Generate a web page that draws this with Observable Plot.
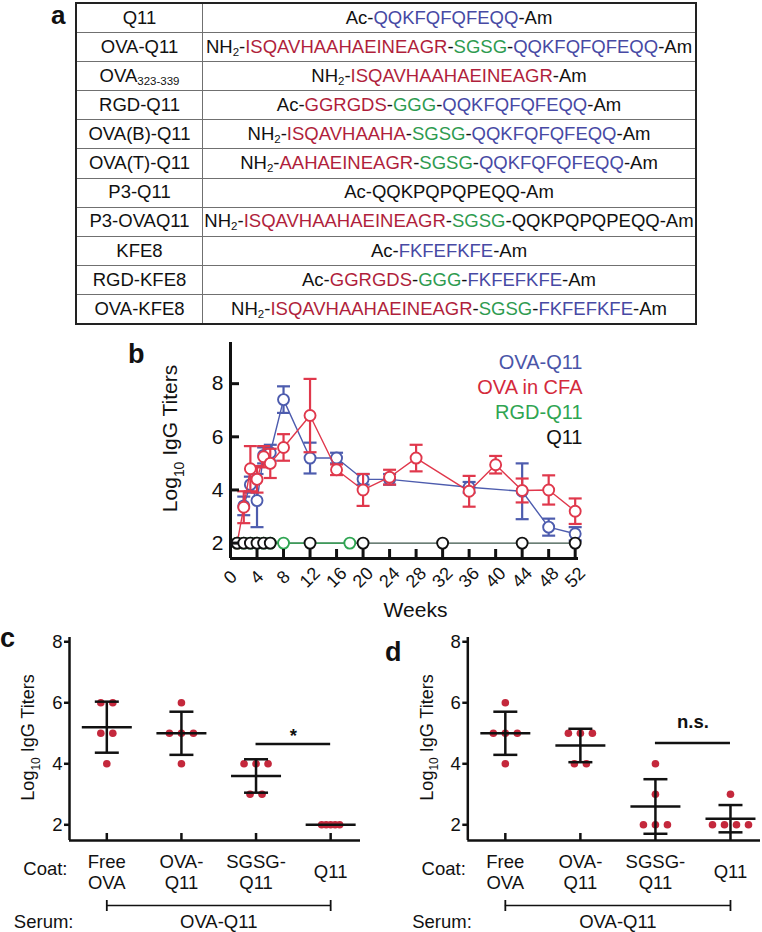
<!DOCTYPE html>
<html><head><meta charset="utf-8">
<script src="https://cdn.jsdelivr.net/npm/d3@7"></script>
<script src="https://cdn.jsdelivr.net/npm/@observablehq/plot@0.6"></script>
<style>
body{margin:0;background:#fff;font-family:"Liberation Sans",Arial,Helvetica,sans-serif;}
#fig{position:relative;width:762px;height:932px;overflow:hidden;background:#fff;}
#fig svg{position:absolute;}
.pl{position:absolute;font-weight:bold;font-size:27px;line-height:0.8;color:#111;}
#pep{position:absolute;left:75px;top:2px;width:622px;border-collapse:collapse;table-layout:fixed;font-size:18.5px;color:#111;border:2.5px solid #222;}
#pep td{height:28.1px;padding:0;text-align:center;white-space:nowrap;border-top:1.5px solid #707070;line-height:1;}
#pep td.n{width:125px;border-right:1.5px solid #707070;}
#pep sub{font-size:0.62em;vertical-align:-0.3em;line-height:0;}
</style></head>
<body><div id="fig"></div>
<script>
// ---------- Panel a: peptide table ----------
const peptideNames = ["Q11","OVA-Q11","OVA","RGD-Q11","OVA(B)-Q11","OVA(T)-Q11","P3-Q11","P3-OVAQ11","KFE8","RGD-KFE8","OVA-KFE8"];
const peptideNameSubs = ["","","323-339","","","","","","","",""];
const seqStart = ["Ac","NH2","NH2","Ac","NH2","NH2","Ac","NH2","Ac","Ac","NH2"];
const seqSegments = [
  [["QQKFQFQFEQQ","b"]],
  [["ISQAVHAAHAEINEAGR","r"],["SGSG","g"],["QQKFQFQFEQQ","b"]],
  [["ISQAVHAAHAEINEAGR","r"]],
  [["GGRGDS","r"],["GGG","g"],["QQKFQFQFEQQ","b"]],
  [["ISQAVHAAHA","r"],["SGSG","g"],["QQKFQFQFEQQ","b"]],
  [["AAHAEINEAGR","r"],["SGSG","g"],["QQKFQFQFEQQ","b"]],
  [["QQKPQPQPEQQ","k"]],
  [["ISQAVHAAHAEINEAGR","r"],["SGSG","g"],["QQKPQPQPEQQ","k"]],
  [["FKFEFKFE","b"]],
  [["GGRGDS","r"],["GGG","g"],["FKFEFKFE","b"]],
  [["ISQAVHAAHAEINEAGR","r"],["SGSG","g"],["FKFEFKFE","b"]]
];
const segColors = {r:"#b01f3c", g:"#2e9b50", b:"#4749a4", k:"#111"};

// ---------- Panel b: time course ----------
const weekTicks = [0,4,8,12,16,20,24,28,32,36,40,44,48,52];
const weeksOVAQ11 = [2,3,4,5,6,8,12,16,20,24,36,44,48,52];
const meanOVAQ11  = [3.4,4.2,3.6,5.3,5.4,7.4,5.2,5.2,4.4,4.4,4.1,3.95,2.6,2.35];
const sdOVAQ11    = [0.35,0.3,1.0,0.3,0.3,0.5,0.58,0.2,0.2,0.2,0.2,1.05,0.32,0.25];
const weeksCFA = [1,2,3,4,5,6,8,12,16,20,24,28,36,40,44,48,52];
const meanCFA  = [2,3.35,4.8,4.4,5.25,5.0,5.6,6.8,4.76,4.0,4.48,5.2,3.95,4.95,3.98,4.0,3.2];
const sdCFA    = [0,0.6,0.85,0.5,0.4,0.55,0.5,1.38,0.2,0.6,0.28,0.5,0.58,0.33,0.45,0.55,0.48];
const weeksRGD = [1,2,3,4,5,6,8,18];
const meanRGD  = [2,2,2,2,2,2,2,2];
const weeksQ11 = [1,2,3,4,5,6,12,20,32,44,52];
const meanQ11  = [2,2,2,2,2,2,2,2,2,2,2];
const legendLabels = ["OVA-Q11","OVA in CFA","RGD-Q11","Q11"];
const legendColors = ["#4a55a8","#d42a3c","#2fa552","#111"];

// ---------- Panels c and d: scatter ----------
const coatLabels = ["Free\nOVA","OVA-\nQ11","SGSG-\nQ11","Q11"];
const titersC = [[6,6,5,5,4],[6,5,5,5,4],[4,4,4,3,3],[2,2,2,2,2]];
const titersD = [[6,5,5,5,4],[5,5,5,4,4],[4,3,2,2,2],[3,2,2,2,2]];
const sigC = [{from:2, to:3, y:4.65, label:"*"}];
const sigD = [{from:2, to:3, y:4.68, label:"n.s."}];
const serumBracket = [{from:0, to:3, label:"OVA-Q11"}];
const yTicks = [2,4,6,8];

const FONT = '"Liberation Sans", Arial, Helvetica, sans-serif';
const fig = document.getElementById("fig");

// build table
(function(){
  const tbl = document.createElement("table"); tbl.id = "pep";
  peptideNames.forEach((nm,i)=>{
    const tr = document.createElement("tr");
    const td1 = document.createElement("td"); td1.className = "n";
    td1.innerHTML = nm + (peptideNameSubs[i] ? "<sub>"+peptideNameSubs[i]+"</sub>" : "");
    const td2 = document.createElement("td");
    let h = seqStart[i] === "NH2" ? "NH<sub>2</sub>" : "Ac";
    for (const [s,c] of seqSegments[i]) h += '-<span style="color:'+segColors[c]+'">'+s+'</span>';
    h += "-Am";
    td2.innerHTML = h;
    tr.append(td1, td2); tbl.append(tr);
  });
  fig.append(tbl);
})();

// symbols
const hline = {draw(ctx, size){const r = Math.sqrt(size/Math.PI); ctx.moveTo(-r,0); ctx.lineTo(r,0);}};
const vline = {draw(ctx, size){const r = Math.sqrt(size/Math.PI); ctx.moveTo(0,-r); ctx.lineTo(0,r);}};
const fmt = d => String(d);

function subLog(svg, fs){
  const ns = "http://www.w3.org/2000/svg";
  for (const t of svg.querySelectorAll("text")) {
    if (t.textContent === "Log10 IgG Titers") {
      t.textContent = "";
      const a = document.createElementNS(ns,"tspan"); a.textContent = "Log";
      const b = document.createElementNS(ns,"tspan"); b.textContent = "10";
      b.setAttribute("font-size", fs*0.66); b.setAttribute("dy", fs*0.3);
      const c = document.createElementNS(ns,"tspan"); c.textContent = " IgG Titers";
      c.setAttribute("dy", -fs*0.3);
      t.append(a,b,c);
    }
  }
}

function place(svg, left, top){ svg.style.left = left+"px"; svg.style.top = top+"px"; fig.append(svg); }

const M = {textAnchor:"middle", lineAnchor:"middle"};

// ---------- panel b ----------
(function(){
  const rows = (w, m, s) => w.map((x,i)=>({w:x, m:m[i], sd:s?s[i]:0, lo:m[i]-(s?s[i]:0), hi:m[i]+(s?s[i]:0)}));
  const ova = rows(weeksOVAQ11, meanOVAQ11, sdOVAQ11);
  const cfa = rows(weeksCFA, meanCFA, sdCFA);
  const rgd = rows(weeksRGD, meanRGD);
  const q11 = rows(weeksQ11, meanQ11);
  const xd = [0, 52.5], yd = [1.42, 9.55];
  function series(data, color, lw){
    const e = data.filter(d=>d.sd>0);
    const caps = e.flatMap(d=>[{w:d.w,y:d.lo},{w:d.w,y:d.hi}]);
    return [
      Plot.line(data, {x:"w", y:"m", stroke:color, strokeWidth:lw}),
      Plot.ruleX(e, {x:"w", y1:"lo", y2:"hi", stroke:color, strokeWidth:2.2}),
      Plot.dot(caps, {x:"w", y:"y", r:6.5, symbol:hline, stroke:color, strokeWidth:2.2, fill:"none"}),
      Plot.dot(data, {x:"w", y:"m", r:5.5, stroke:color, strokeWidth:1.9, fill:"white"})
    ];
  }
  const svg = Plot.plot({
    width:470, height:290, marginLeft:100, marginRight:22, marginTop:12, marginBottom:62,
    x:{domain:xd}, y:{domain:yd},
    style:{fontFamily:FONT, fontSize:"20px", color:"#111", background:"transparent", overflow:"visible"},
    marks:[
      ...series(ova, "#4d5cae", 1.4),
      ...series(cfa, "#e0384c", 1.4),
      Plot.line(q11, {x:"w", y:"m", stroke:"#3a5548", strokeWidth:1.4}),
      Plot.line(rgd, {x:"w", y:"m", stroke:"#2fa552", strokeWidth:1.4}),
      Plot.dot(rgd, {x:"w", y:"m", r:5.5, stroke:"#2fa552", strokeWidth:1.9, fill:"white"}),
      Plot.dot(q11, {x:"w", y:"m", r:5.5, stroke:"#111", strokeWidth:1.9, fill:"white"}),
      Plot.ruleX([xd[0]], {stroke:"#111", strokeWidth:3}),
      Plot.ruleY([yd[0]], {stroke:"#111", strokeWidth:3}),
      Plot.axisY({ticks:yTicks, tickSize:-9, strokeWidth:3, fill:"none", label:null}),
      Plot.axisY({ticks:yTicks, tickSize:0, tickPadding:7, fontSize:21, tickFormat:fmt, label:null}),
      Plot.axisX({ticks:weekTicks, tickSize:-9, strokeWidth:3, fill:"none", label:null}),
      Plot.text(weekTicks, {x:d=>d, text:fmt, frameAnchor:"bottom", dy:19, rotate:-45, fontSize:18, ...M}),
      Plot.text(["Weeks"], {frameAnchor:"bottom", dx:11, dy:52, fontSize:21, ...M}),
      Plot.text(["Log10 IgG Titers"], {frameAnchor:"left", rotate:-90, dx:-60, dy:-12, fontSize:21, ...M}),
      ...legendLabels.map((l,i)=>Plot.text([l], {frameAnchor:"top-right", textAnchor:"end", lineAnchor:"middle", dx:4, dy:19.7+25*i, fill:legendColors[i], fontSize:20}))
    ]
  });
  subLog(svg, 21);
  place(svg, 130, 330);
})();

// ---------- panels c, d ----------
function scatterPanel(titers, sig, sigDy, left, width, marginLeft, marginRight){
  const xd = [-0.5, 3.4], yd = [1.485, 8.14];
  const ppu = (width - marginLeft - marginRight) / (xd[1]-xd[0]);
  const pts = [];
  titers.forEach((vals, g)=>{
    const counts = d3.rollup(vals, v=>v.length, v=>v);
    const seen = new Map();
    vals.forEach(v=>{
      const n = counts.get(v), k = seen.get(v) || 0; seen.set(v, k+1);
      const s = n > 4 ? 4.5 : 12;
      pts.push({g, v, x: g + ((k-(n-1)/2)*s)/ppu});
    });
  });
  const stats = titers.map((vals,g)=>{const m = d3.mean(vals), s = d3.deviation(vals)||0; return {g, m, s, lo:m-s, hi:m+s};});
  const errs = stats.filter(d=>d.s>0);
  const caps = errs.flatMap(d=>[{g:d.g,y:d.lo},{g:d.g,y:d.hi}]);
  const svg = Plot.plot({
    width, height:304, marginLeft, marginRight, marginTop:9, marginBottom:92,
    x:{domain:xd}, y:{domain:yd},
    style:{fontFamily:FONT, fontSize:"18.5px", color:"#111", background:"transparent", overflow:"visible"},
    marks:[
      Plot.dot(pts, {x:"x", y:"v", r:3.8, fill:"#c4283c", stroke:"none"}),
      Plot.ruleX(errs, {x:"g", y1:"lo", y2:"hi", stroke:"#111", strokeWidth:2.5}),
      Plot.dot(caps, {x:"g", y:"y", r:12, symbol:hline, stroke:"#111", strokeWidth:2.5, fill:"none"}),
      Plot.dot(stats, {x:"g", y:"m", r:25, symbol:hline, stroke:"#111", strokeWidth:2.5, fill:"none"}),
      Plot.ruleX([xd[0]], {stroke:"#111", strokeWidth:2.5}),
      Plot.ruleY([yd[0]], {stroke:"#111", strokeWidth:2.5}),
      Plot.axisY({ticks:yTicks, tickSize:5, strokeWidth:2.5, fill:"none", label:null}),
      Plot.axisY({ticks:yTicks, tickSize:0, tickPadding:7, fontSize:18.5, tickFormat:fmt, label:null}),
      Plot.axisX({ticks:[0,1,2,3], tickSize:-7, strokeWidth:2.5, fill:"none", label:null}),
      Plot.text(coatLabels, {x:(d,i)=>i, frameAnchor:"bottom", dy:31, lineHeight:1.17, fontSize:18.5, ...M}),
      Plot.text(["Coat:"], {frameAnchor:"bottom-left", textAnchor:"end", lineAnchor:"middle", dx:-2, dy:29, fontSize:18.5}),
      Plot.ruleY(serumBracket, {y:yd[0], x1:"from", x2:"to", dy:65, stroke:"#111", strokeWidth:1.6}),
      Plot.dot(serumBracket.flatMap(d=>[d.from,d.to]), {x:d=>d, frameAnchor:"bottom", dy:65, r:5.5, symbol:vline, stroke:"#111", strokeWidth:1.8, fill:"none"}),
      Plot.text(serumBracket, {x:d=>(d.from+d.to)/2, text:"label", frameAnchor:"bottom", dy:82, fontSize:18.5, ...M}),
      Plot.text(["Serum:"], {frameAnchor:"bottom-left", textAnchor:"end", lineAnchor:"middle", dx:4, dy:82, fontSize:18.5}),
      Plot.ruleY(sig, {y:"y", x1:"from", x2:"to", stroke:"#111", strokeWidth:2.5}),
      Plot.text(sig, {x:d=>(d.from+d.to)/2, y:"y", text:"label", dy:sigDy, fontWeight:"bold", fontSize:18.5, ...M}),
      Plot.text(["Log10 IgG Titers"], {frameAnchor:"left", rotate:-90, dx:-41, dy:-1.5, fontSize:18, ...M})
    ]
  });
  subLog(svg, 18);
  place(svg, left, 628);
}
scatterPanel(titersC, sigC, -8, 0, 380, 69, 20);
scatterPanel(titersD, sigD, -21, 380, 382, 87.3, 2);

// panel letters
[["a",51,2,26,1],["b",128,344,27,0.8],["c",0,628,27,0.8],["d",385,641.5,27,0.8]].forEach(([t,l,tp,fs,lh])=>{
  const d = document.createElement("div"); d.className="pl"; d.textContent=t;
  d.style.left=l+"px"; d.style.top=tp+"px"; d.style.fontSize=fs+"px"; d.style.lineHeight=lh; fig.append(d);
});
</script>
</body></html>
